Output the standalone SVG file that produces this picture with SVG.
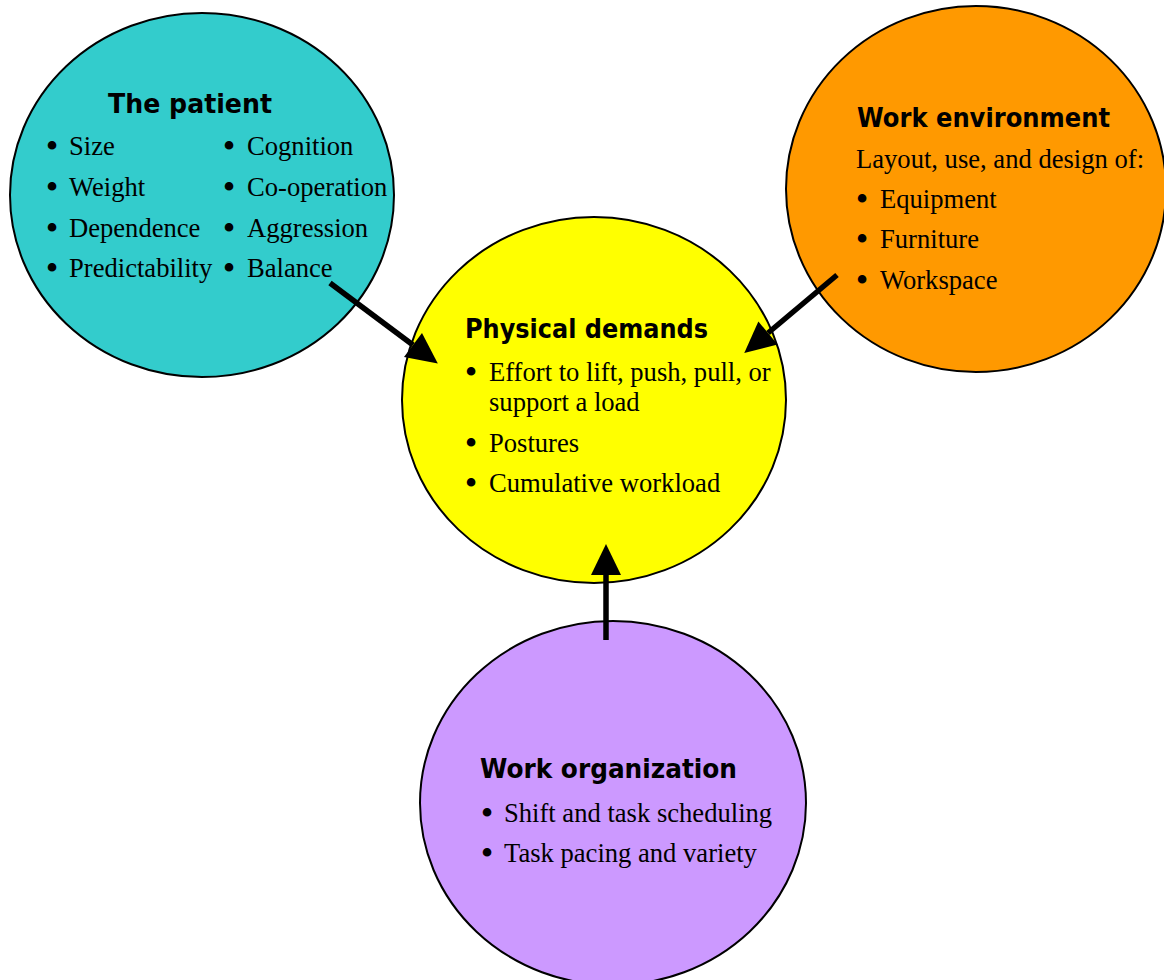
<svg xmlns="http://www.w3.org/2000/svg" width="1164" height="980" viewBox="0 0 1164 980">
<style>
.node{stroke:#000;stroke-width:2}
.t{font-family:"DejaVu Sans","Liberation Sans",sans-serif;font-weight:bold;font-size:27px;fill:#000}
.b{font-family:"Liberation Serif","Times New Roman",serif;font-size:26.6px;fill:#000}
.bl{font-family:"Liberation Serif","Times New Roman",serif;font-size:36px;fill:#000;text-anchor:middle}
.c{stroke:#000;stroke-width:5.5;fill:none}
</style>
<defs>
<marker id="ah" markerUnits="userSpaceOnUse" markerWidth="32" markerHeight="32" refX="0" refY="15" orient="auto" overflow="visible">
<path d="M0,0 L31,15 L0,30 Z" fill="#000"/>
</marker>
</defs>
<rect width="1164" height="980" fill="#fff"/>
<g id="patient">
<ellipse class="node" cx="202" cy="195" rx="192" ry="182" fill="#33CCCC"/>
<text class="t" x="108" y="113" textLength="164" lengthAdjust="spacingAndGlyphs">The patient</text>
<text class="bl" x="52" y="158">•</text><text class="b" x="69" y="155">Size</text>
<text class="bl" x="52" y="199">•</text><text class="b" x="69" y="196">Weight</text>
<text class="bl" x="52" y="240">•</text><text class="b" x="69" y="237">Dependence</text>
<text class="bl" x="52" y="280">•</text><text class="b" x="69" y="277">Predictability</text>
<text class="bl" x="229" y="158">•</text><text class="b" x="247" y="155">Cognition</text>
<text class="bl" x="229" y="199">•</text><text class="b" x="247" y="196">Co-operation</text>
<text class="bl" x="229" y="240">•</text><text class="b" x="247" y="237">Aggression</text>
<text class="bl" x="229" y="280">•</text><text class="b" x="247" y="277">Balance</text>
</g>
<g id="environment">
<ellipse class="node" cx="976" cy="189" rx="190" ry="183" fill="#FF9900"/>
<text class="t" x="857" y="127" textLength="253" lengthAdjust="spacingAndGlyphs">Work environment</text>
<text class="b" x="856" y="168">Layout, use, and design of:</text>
<text class="bl" x="862" y="211">•</text><text class="b" x="880" y="208">Equipment</text>
<text class="bl" x="862" y="251">•</text><text class="b" x="880" y="248">Furniture</text>
<text class="bl" x="862" y="292">•</text><text class="b" x="880" y="289">Workspace</text>
</g>
<g id="demands">
<ellipse class="node" cx="594" cy="400" rx="192" ry="183" fill="#FFFF00"/>
<text class="t" x="465" y="338" textLength="243" lengthAdjust="spacingAndGlyphs">Physical demands</text>
<text class="bl" x="471" y="384">•</text><text class="b" x="489" y="381">Effort to lift, push, pull, or</text>
<text class="b" x="489" y="411">support a load</text>
<text class="bl" x="471" y="455">•</text><text class="b" x="489" y="452">Postures</text>
<text class="bl" x="471" y="495">•</text><text class="b" x="489" y="492">Cumulative workload</text>
</g>
<g id="organization">
<ellipse class="node" cx="613" cy="803" rx="193" ry="182" fill="#CC99FF"/>
<text class="t" x="480" y="778" textLength="257" lengthAdjust="spacingAndGlyphs">Work organization</text>
<text class="bl" x="487" y="825">•</text><text class="b" x="504" y="822">Shift and task scheduling</text>
<text class="bl" x="487" y="865">•</text><text class="b" x="504" y="862">Task pacing and variety</text>
</g>
<g id="connectors">
<line class="c" x1="330" y1="283" x2="413" y2="345" marker-end="url(#ah)"/>
<line class="c" x1="837" y1="275" x2="768" y2="333" marker-end="url(#ah)"/>
<line class="c" x1="606" y1="640" x2="606" y2="575" marker-end="url(#ah)"/>
</g>
</svg>
